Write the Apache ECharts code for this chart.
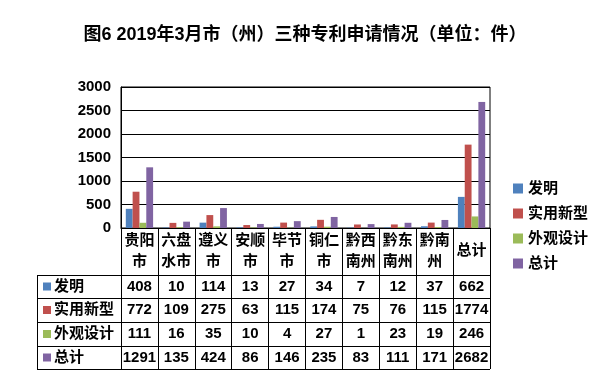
<!DOCTYPE html>
<html>
<head>
<meta charset="utf-8">
<script src="https://cdn.jsdelivr.net/npm/echarts@6/dist/echarts.min.js"></script>
<style>
html,body{margin:0;padding:0;background:#fff;}
#main{width:610px;height:383px;}
</style>
</head>
<body>
<div id="main"></div>
<script>
//数据
var cities = ['贵阳市','六盘水市','遵义市','安顺市','毕节市','铜仁市','黔西南州','黔东南州','黔南州','总计'];
var seriesNames = ['发明','实用新型','外观设计','总计'];
var faming = [408,10,114,13,27,34,7,12,37,662];
var shiyong = [772,109,275,63,115,174,75,76,115,1774];
var waiguan = [111,16,35,10,4,27,1,23,19,246];
var zongji = [1291,135,424,86,146,235,83,111,171,2682];
var colors = ['#4F81BD','#C0504D','#9BBB59','#8064A2'];
var yTicks = [0,500,1000,1500,2000,2500,3000];

var font = 'Liberation Sans, Arial, Noto Sans CJK SC, sans-serif';
var allData = [faming,shiyong,waiguan,zongji];

var gLeft = 121, gRight = 490, gTop = 87, gBottom = 228;
var tLeft = 37;
var rowLines = [275,298,322,346,369];

var myChart = echarts.init(document.getElementById('main'));

var xAxes = [{
	type:'category',
	data:cities,
	gridIndex:0,
	axisLine:{show:true,lineStyle:{color:'#000',width:1}},
	axisTick:{show:true,length:rowLines[4]-gBottom,lineStyle:{color:'#000',width:1}},
	axisLabel:{
		interval:0,margin:23,verticalAlign:'middle',lineHeight:21,
		color:'#000',fontWeight:'bold',fontSize:15,fontFamily:font,
		formatter:function(v){ return v.length>2 ? v.slice(0,2)+'\n'+v.slice(2) : v; }
	}
}];
//表格中的数值行
for (var i = 0; i < allData.length; i++) {
	(function(vals,idx){
		var center = (rowLines[idx]+rowLines[idx+1])/2;
		xAxes.push({
			type:'category',
			data:cities,
			gridIndex:0,
			position:'bottom',
			offset:center-gBottom,
			axisLine:{show:false},
			axisTick:{show:false},
			splitLine:{show:false},
			axisLabel:{
				interval:0,margin:0,verticalAlign:'middle',
				color:'#000',fontWeight:'bold',fontSize:15,fontFamily:font,
				formatter:function(v,n){ return String(vals[n]); }
			}
		});
	})(allData[i],i);
}

var graphics = [];
//横线
for (var i = 0; i < rowLines.length; i++) {
	graphics.push({type:'line',shape:{x1:tLeft,y1:rowLines[i]+0.5,x2:gRight,y2:rowLines[i]+0.5},style:{stroke:'#000',lineWidth:1}});
}
graphics.push({type:'line',shape:{x1:tLeft+0.5,y1:rowLines[0],x2:tLeft+0.5,y2:rowLines[4]},style:{stroke:'#000',lineWidth:1}});
//行标题
for (var i = 0; i < seriesNames.length; i++) {
	var cy = (rowLines[i]+rowLines[i+1])/2;
	graphics.push({type:'rect',shape:{x:43,y:cy-4,width:8,height:8},style:{fill:colors[i]}});
	graphics.push({type:'text',x:54,y:cy,style:{text:seriesNames[i],fill:'#000',font:'bold 15px '+font,textVerticalAlign:'middle'}});
}

var series = [];
for (var i = 0; i < seriesNames.length; i++) {
	series.push({
		name:seriesNames[i],
		type:'bar',
		data:allData[i],
		barGap:'0%',
		barCategoryGap:'26%',
		itemStyle:{color:colors[i]}
	});
}

option = {
	backgroundColor:'#fff',
	animation:false,
	title:{
		text:'图6 2019年3月市（州）三种专利申请情况（单位：件）',
		left:'center',top:21,
		textStyle:{color:'#000',fontSize:18,fontWeight:'bold',fontFamily:font}
	},
	legend:{
		orient:'vertical',left:508,top:176,
		icon:'rect',itemWidth:10,itemHeight:10,itemGap:10,
		data:seriesNames,
		textStyle:{color:'#000',fontSize:15,fontWeight:'bold',fontFamily:font}
	},
	grid:{
		left:gLeft,right:610-gRight,top:gTop,bottom:383-gBottom,
		show:true,borderColor:'#000',borderWidth:1,containLabel:false
	},
	xAxis:xAxes,
	yAxis:[{
		type:'value',min:yTicks[0],max:yTicks[yTicks.length-1],interval:500,
		axisLine:{show:true,lineStyle:{color:'#000'}},
		axisTick:{show:false},
		splitLine:{show:true,lineStyle:{color:'#000',width:1}},
		axisLabel:{margin:10,color:'#000',fontWeight:'bold',fontSize:15,fontFamily:font,
			formatter:function(v){ return String(v); }}
	}],
	graphic:graphics,
	series:series
};
myChart.setOption(option);
</script>
</body>
</html>
